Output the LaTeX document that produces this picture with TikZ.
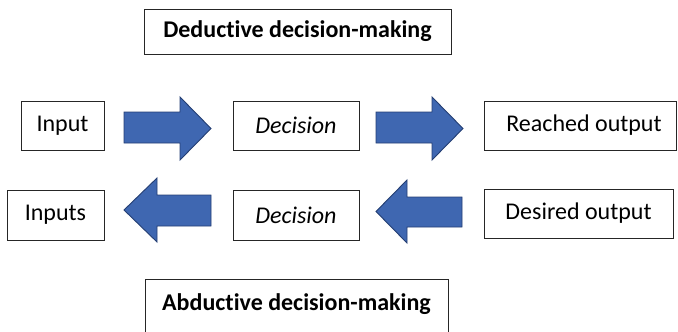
\documentclass[tikz,border=0pt]{standalone}
\usepackage{fontspec}
\setmainfont[Ligatures=NoCommon]{Carlito}
\begin{document}
\begin{tikzpicture}[x=1pt,y=-1pt,
  box/.style={draw=black!85,line width=0.9pt,fill=white},
  label/.style={font=\fontsize{24}{28}\selectfont},
  titlelabel/.style={font=\fontsize{24}{28}\selectfont\bfseries},
  blockarrow/.style={fill=arrowblue,draw=arrowedge,line width=0.9pt,line join=miter}]
\definecolor{arrowblue}{HTML}{3F67B1}
\definecolor{arrowedge}{HTML}{253F73}
\useasboundingbox (0,0) rectangle (678,332);
\clip (0,0) rectangle (678,332);

% Deductive row
\draw[box] (144,9) rectangle (451,54);
\node[titlelabel] (dedtitle) at (297.5,31.5) {Deductive decision-making};

\draw[box] (21,101) rectangle (104,150);
\node[label] (input) at (62.5,125.5) {Input};
\draw[box] (233,101) rectangle (359,150);
\node[label] (dec1) at (296,125.5) {\itshape Decision};
\draw[box] (484,101) rectangle (676,150);
\node[label] (reached) at (584,125.5) {Reached output};

\draw[blockarrow] (124,112) -- (180,112) -- (180,97) -- (211,128.5) -- (180,160)
  -- (180,143) -- (124,143) -- cycle;
\draw[blockarrow] (376,112) -- (432,112) -- (432,97) -- (463,128.5) -- (432,160)
  -- (432,143) -- (376,143) -- cycle;

% Abductive row
\draw[box] (7,190) rectangle (104,240);
\node[label] (inputs) at (55.5,215) {Inputs};
\draw[box] (233,190) rectangle (359,240);
\node[label] (dec2) at (296,215) {\itshape Decision};
\draw[box] (484,189) rectangle (673,238);
\node[label] (desired) at (578.5,213.5) {Desired output};

\draw[blockarrow] (211,195) -- (157,195) -- (157,178) -- (124,210) -- (157,242)
  -- (157,226) -- (211,226) -- cycle;
\draw[blockarrow] (462,197) -- (407,197) -- (407,180) -- (376,211.5) -- (407,243)
  -- (407,227) -- (462,227) -- cycle;

\draw[box] (145,279) rectangle (448,345);
\node[titlelabel] (abdtitle) at (296.5,304) {Abductive decision-making};
\end{tikzpicture}
\end{document}
